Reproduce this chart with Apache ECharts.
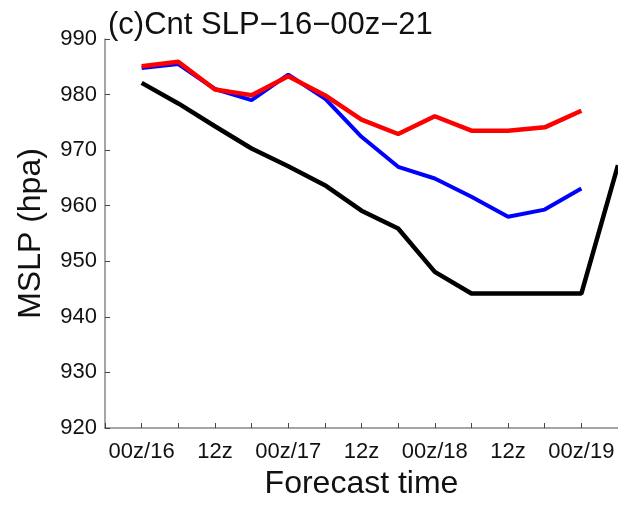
<!DOCTYPE html>
<html>
<head>
<meta charset="utf-8">
<script src="https://cdn.jsdelivr.net/npm/echarts@6/dist/echarts.min.js"></script>
<style>
  html, body { margin: 0; padding: 0; background: #fff; }
  #container { width: 618px; height: 506px; }
</style>
</head>
<body>
<div id="container"></div>
<script>
// forecast hours from 00z/16, every 6h
const hours = [-6, 0, 6, 12, 18, 24, 30, 36, 42, 48, 54, 60, 66, 72, 78];
const tickLabels = ['', '00z/16', '', '12z', '', '00z/17', '', '12z', '', '00z/18', '', '12z', '', '00z/19', ''];

const observed = [null, 982.1, 978.4, 974.3, 970.3, 967.1, 963.7, 959.1, 955.9, 948.1, 944.2, 944.2, 944.2, 944.2, 967.3];
const blueRun = [null, 984.8, 985.5, 981.0, 979.0, 983.6, 979.3, 972.4, 967.0, 964.9, 961.6, 958.0, 959.3, 963.1, null];
const redRun = [null, 985.1, 985.9, 980.9, 979.9, 983.3, 979.9, 975.5, 972.9, 976.1, 973.5, 973.5, 974.1, 977.1, null];

const chart = echarts.init(document.getElementById('container'), null, { renderer: 'canvas' });

const font = 'Liberation Sans, Arial, sans-serif';

const option = {
  animation: false,
  backgroundColor: '#fff',
  title: {
    text: '(c)Cnt SLP\u221216\u221200z\u221221',
    left: 103,
    top: 5,
    textStyle: { fontFamily: font, fontSize: 31, fontWeight: 'normal', color: '#111' }
  },
  grid: { left: 105, right: 0, top: 39, bottom: 78, outerBoundsMode: 'none', containLabel: false },
  xAxis: {
    type: 'category',
    data: hours,
    boundaryGap: false,
    name: 'Forecast time',
    nameLocation: 'middle',
    nameGap: 39,
    nameTextStyle: { fontFamily: font, fontSize: 32, color: '#111' },
    axisLine: { lineStyle: { color: '#888', width: 1.5 } },
    axisTick: { inside: true, length: 5, interval: 0, lineStyle: { color: '#444' } },
    axisLabel: {
      interval: 0,
      margin: 13,
      fontFamily: font,
      fontSize: 22,
      color: '#111',
      formatter: (v, i) => tickLabels[i]
    },
    splitLine: { show: false }
  },
  yAxis: {
    type: 'value',
    min: 920,
    max: 990,
    interval: 10,
    name: 'MSLP (hpa)',
    nameLocation: 'middle',
    nameGap: 58,
    nameTextStyle: { fontFamily: font, fontSize: 32, color: '#111' },
    axisLine: { show: true, lineStyle: { color: '#888', width: 1.5 } },
    axisTick: { show: true, inside: true, length: 5, lineStyle: { color: '#444' } },
    axisLabel: { margin: 8, fontFamily: font, fontSize: 22, color: '#111' },
    splitLine: { show: false }
  },
  series: [
    {
      name: 'Observed',
      type: 'line',
      data: observed,
      symbol: 'none',
      lineStyle: { color: '#000', width: 4.5 },
      z: 2
    },
    {
      name: 'Run 1',
      type: 'line',
      data: blueRun,
      symbol: 'none',
      lineStyle: { color: '#0000ff', width: 4 },
      z: 3
    },
    {
      name: 'Run 2',
      type: 'line',
      data: redRun,
      symbol: 'none',
      lineStyle: { color: '#ff0000', width: 4.5 },
      z: 4
    }
  ]
};

chart.setOption(option);
window.addEventListener('resize', () => chart.resize());
</script>
</body>
</html>
